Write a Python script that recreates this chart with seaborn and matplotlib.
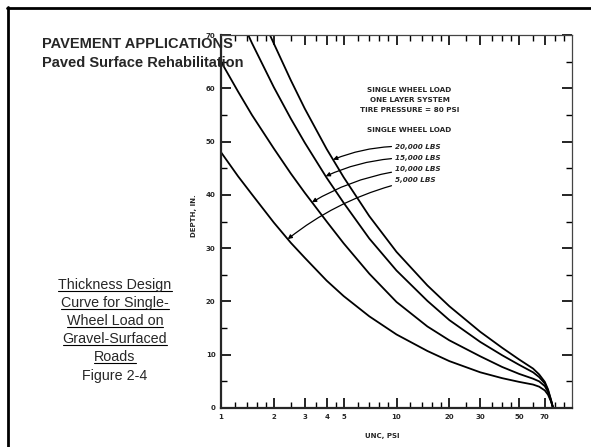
import numpy as np
import pandas as pd
import matplotlib
matplotlib.use('Agg')
import matplotlib.pyplot as plt
import seaborn as sns
from matplotlib.lines import Line2D
from matplotlib.ticker import FixedLocator, NullFormatter

# stress values (psi) read along the x axis, depth (in.) for each wheel load
x_low = [1, 1.25, 1.5, 2, 2.5, 3, 4, 5, 7, 10, 15, 20, 30, 40, 50, 60, 65, 70, 73, 76, 78]
depth_5k = [48, 43.5, 40.1, 34.8, 31.0, 28.2, 23.9, 21.0, 17.2, 13.8, 10.7, 8.8, 6.7, 5.6, 4.9,
            4.4, 4.0, 3.3, 2.5, 1.2, 0]
depth_10k = [65, 59.4, 55.0, 48.7, 44.0, 40.4, 35.0, 30.9, 25.2, 19.9, 15.3, 12.7, 9.7, 7.7, 6.4,
             5.5, 5.0, 4.1, 3.0, 1.3, 0]
x_15k = [1.43, 1.5, 2, 2.5, 3, 4, 5, 7, 10, 15, 20, 30, 40, 50, 60, 65, 70, 73, 76, 78]
depth_15k = [70, 68.5, 60.2, 54.3, 49.8, 43.2, 38.5, 31.8, 25.8, 20.1, 16.5, 12.4, 9.9, 8.1, 6.7,
             5.8, 4.6, 3.3, 1.4, 0]
x_20k = [1.9, 2, 2.5, 3, 4, 5, 7, 10, 15, 20, 30, 40, 50, 60, 65, 70, 73, 76, 78]
depth_20k = [70, 68.4, 61.5, 56.2, 48.6, 43.3, 36.0, 29.3, 23.0, 19.1, 14.3, 11.3, 9.1, 7.4, 6.3,
             4.9, 3.5, 1.5, 0]

loads = ['5,000 LBS', '10,000 LBS', '15,000 LBS', '20,000 LBS']
arrow_x = [2.4, 3.3, 3.95, 4.35]   # where the label arrows touch each curve

x_major = [1, 2, 3, 4, 5, 10, 20, 30, 50, 70]
x_minor = [1.2, 1.4, 1.6, 1.8, 2.5, 3.5, 4.5, 6, 7, 8, 9, 12, 14, 16, 18, 25, 35, 40, 45, 60, 80, 90]

series = [(x_low, depth_5k), (x_low, depth_10k), (x_15k, depth_15k), (x_20k, depth_20k)]
frames = []
for name, (xs, ds) in zip(loads, series):
    frames.append(pd.DataFrame({'psi': xs, 'depth': ds, 'load': name}))
df = pd.concat(frames, ignore_index=True)

sns.set_style('ticks')
plt.rcParams['font.family'] = ['Liberation Sans', 'DejaVu Sans']

W, H = 591, 447
fig = plt.figure(figsize=(W / 100, H / 100), dpi=100)
ax = fig.add_axes([221 / W, (H - 408) / H, 351 / W, 373 / H])

sns.lineplot(data=df, x='psi', y='depth', hue='load', palette=['black'] * 4,
             estimator=None, sort=False, legend=False, lw=1.3, ax=ax)
for ln in ax.get_lines():
    ln.set_solid_joinstyle('round')

ax.set_xscale('log')
ax.set_xlim(1, 100)
ax.set_ylim(0, 70)
ax.set_xticks(x_major)
ax.set_xticklabels([str(v) for v in x_major])
ax.xaxis.set_minor_locator(FixedLocator(x_minor))
ax.xaxis.set_minor_formatter(NullFormatter())
ax.set_yticks(range(0, 71, 10))
ax.yaxis.set_minor_locator(FixedLocator(range(5, 70, 10)))

tick_font = dict(family='DejaVu Sans', weight='bold', size=5)
for lab in ax.get_xticklabels() + ax.get_yticklabels():
    lab.set_fontfamily('DejaVu Sans')
    lab.set_fontweight('bold')
    lab.set_fontsize(5)

ax.tick_params(which='major', direction='in', length=7, width=1.2, top=True, right=True, pad=4,
               color='black')
ax.tick_params(which='minor', direction='in', length=4, width=1.0, top=True, right=True, color='black')
for side in ['left', 'bottom']:
    ax.spines[side].set_linewidth(1.6)
for side in ['top', 'right']:
    ax.spines[side].set_linewidth(0.9)
    ax.spines[side].set_color('#444444')

ax.set_xlabel('UNC, PSI', fontdict=tick_font)
ax.xaxis.set_label_coords((382 - 221) / 351, -0.068)
ax.set_ylabel('DEPTH, IN.', fontdict=tick_font)
ax.yaxis.set_label_coords(-0.068, (408 - 216) / 373)

# load labels and arrows
note_font = dict(family='DejaVu Sans', weight='bold', size=5.2)
for i, t in enumerate(['SINGLE WHEEL LOAD', 'ONE LAYER SYSTEM', 'TIRE PRESSURE = 80 PSI']):
    ax.text(0.537, (408 - (90 + 10 * i)) / 373, t, transform=ax.transAxes, ha='center', va='center',
            fontdict=note_font)
ax.text(0.537, (408 - 130) / 373, 'SINGLE WHEEL LOAD', transform=ax.transAxes, ha='center',
        va='center', fontdict=note_font)

label_y = [180, 169, 158, 147]
for i, (name, (xs, ds)) in enumerate(zip(loads, series)):
    tip_d = np.interp(np.log10(arrow_x[i]), np.log10(xs), ds)
    ty = (408 - label_y[i]) / 373
    ax.annotate(name, xy=(arrow_x[i], tip_d), xycoords='data',
                xytext=(0.495, ty), textcoords='axes fraction', ha='left', va='center',
                fontsize=5.2, fontweight='bold', fontstyle='italic', family='DejaVu Sans',
                arrowprops=dict(arrowstyle='-|>', color='black', lw=0.9, mutation_scale=6,
                                shrinkA=0, shrinkB=0, connectionstyle='arc3,rad=0.12'))

# slide frame and slide texts
fig.add_artist(Line2D([7 / W, 1], [1 - 8 / H, 1 - 8 / H], transform=fig.transFigure, color='black', lw=2))
fig.add_artist(Line2D([8 / W, 8 / W], [0, 1 - 7 / H], transform=fig.transFigure, color='black', lw=2))

fig.text(42 / W, 1 - 48 / H, 'PAVEMENT APPLICATIONS', fontsize=10.5, fontweight='bold', va='baseline')
fig.text(42 / W, 1 - 67 / H, 'Paved Surface Rehabilitation', fontsize=10.5, fontweight='bold', va='baseline')

caption = ['Thickness Design', 'Curve for Single-', 'Wheel Load on', 'Gravel-Surfaced', 'Roads']
base_y = [289, 307, 325, 343, 361]
fig.canvas.draw()
renderer = fig.canvas.get_renderer()
for line, by in zip(caption, base_y):
    t = fig.text(115 / W, 1 - by / H, line, fontsize=10.3, ha='center', va='baseline')
    bb = t.get_window_extent(renderer=renderer)
    uy = 1 - (by + 2) / H
    fig.add_artist(Line2D([bb.x0 / W, bb.x1 / W], [uy, uy], transform=fig.transFigure,
                          color='black', lw=0.8))
fig.text(115 / W, 1 - 380 / H, 'Figure 2-4', fontsize=10.3, ha='center', va='baseline')

fig.savefig('out.png', dpi=100)
